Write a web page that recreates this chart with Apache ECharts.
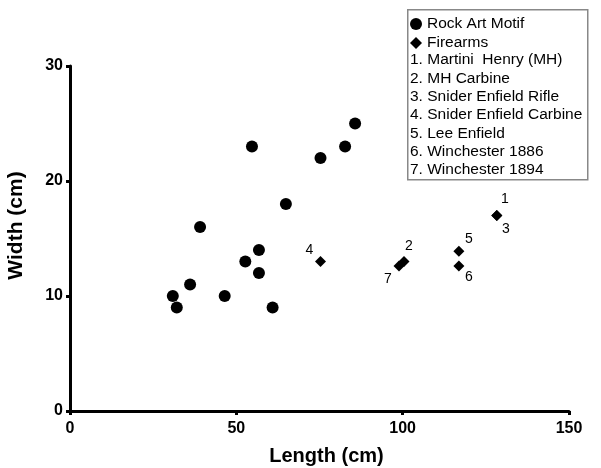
<!DOCTYPE html>
<html>
<head>
<meta charset="utf-8">
<script src="https://cdn.jsdelivr.net/npm/echarts@6/dist/echarts.min.js"></script>
<style>
html,body{margin:0;padding:0;background:#fff;}
#chart{width:601px;height:468px;}
</style>
</head>
<body>
<div id="chart"></div>
<script>
// ---- data ----
const rockLength = [85.7, 82.7, 75.3, 54.7, 64.9, 39.1, 56.8, 52.7, 56.8, 36.1, 30.9, 32.1, 46.5, 60.9];
const rockWidth  = [25,   23,   22,   23,   18,   16,   14,   13,   12,   11,   10,   9,    10,   9];
const firearmNums   = ['1', '2', '3', '4', '5', '6', '7'];
const firearmLength = [128.3, 100.4, 128.3, 75.3, 116.9, 116.9, 98.9];
const firearmWidth  = [17, 13, 17, 13, 13.9, 12.6, 12.6];
const firearmNames = [
  '1. Martini  Henry (MH)',
  '2. MH Carbine',
  '3. Snider Enfield Rifle',
  '4. Snider Enfield Carbine',
  '5. Lee Enfield',
  '6. Winchester 1886',
  '7. Winchester 1894'
];
const xTicks = [0, 50, 100, 150];
const yTicks = [0, 10, 20, 30];

// ---- styles (label placement, not data) ----
const labelOffsets = {
  '1': [8, -16], '2': [5, -15], '3': [9, 14], '4': [-11, -11],
  '5': [10, -12], '6': [10, 11], '7': [-11, 13]
};
const FONT = '"Liberation Sans", Arial, Helvetica, sans-serif';

const rockData = rockLength.map((x, i) => [x, rockWidth[i]]);
const firearmData = firearmLength.map((x, i) => ({
  value: [x, firearmWidth[i]],
  name: firearmNums[i],
  label: {
    show: true,
    formatter: firearmNums[i],
    position: 'inside',
    offset: labelOffsets[firearmNums[i]],
    color: '#000',
    opacity: 1,
    fontSize: 14,
    fontFamily: FONT
  }
}));

const chart = echarts.init(document.getElementById('chart'), null, {renderer: 'canvas'});

const legendLines = firearmNames.map((t, i) => ({
  type: 'text',
  left: 410,
  top: 59.5 + i * 18.35 - 7.5,
  style: {text: t, fill: '#000', font: '15.5px ' + FONT}
}));

chart.setOption({
  backgroundColor: '#fff',
  animation: false,
  grid: {left: 70, right: 32, top: 66, bottom: 57, containLabel: false, outerBoundsMode: 'none'},
  xAxis: {
    type: 'value', min: xTicks[0], max: xTicks[xTicks.length - 1], interval: 50,
    name: 'Length (cm)', nameLocation: 'middle', nameGap: 35,
    nameTextStyle: {fontSize: 20, fontWeight: 'bold', color: '#000', fontFamily: FONT, padding: [0, 0, 0, 14]},
    axisLine: {show: true, lineStyle: {color: '#000', width: 3}},
    axisTick: {show: true, length: 4, lineStyle: {color: '#000', width: 3}},
    axisLabel: {fontSize: 16, fontWeight: 'bold', color: '#000', margin: 10, fontFamily: FONT},
    splitLine: {show: false}
  },
  yAxis: {
    type: 'value', min: yTicks[0], max: yTicks[yTicks.length - 1], interval: 10,
    name: 'Width (cm)', nameLocation: 'middle', nameGap: 43,
    nameTextStyle: {fontSize: 21, fontWeight: 'bold', color: '#000', fontFamily: FONT, padding: [0, 0, 0, 26]},
    axisLine: {show: true, lineStyle: {color: '#000', width: 3}},
    axisTick: {show: true, length: 4, lineStyle: {color: '#000', width: 3}},
    axisLabel: {fontSize: 16, fontWeight: 'bold', color: '#000', margin: 7, fontFamily: FONT},
    splitLine: {show: false}
  },
  legend: {
    orient: 'vertical', left: 410, top: 16, padding: 0,
    itemWidth: 12, itemHeight: 12, itemGap: 3,
    textStyle: {fontSize: 15.5, color: '#000', fontFamily: FONT},
    data: [
      {name: 'Rock Art Motif', icon: 'circle'},
      {name: 'Firearms', icon: 'diamond'}
    ]
  },
  graphic: [
    {
      type: 'rect', left: 407, top: 9, z: -1,
      shape: {width: 180, height: 170},
      style: {fill: '#fff', stroke: '#888', lineWidth: 1.5}
    }
  ].concat(legendLines),
  series: [
    {
      name: 'Rock Art Motif', type: 'scatter', symbol: 'circle', symbolSize: 12,
      itemStyle: {color: '#000', opacity: 1}, data: rockData
    },
    {
      name: 'Firearms', type: 'scatter', symbol: 'diamond', symbolSize: 11,
      itemStyle: {color: '#000', opacity: 1}, data: firearmData
    }
  ]
});
</script>
</body>
</html>
